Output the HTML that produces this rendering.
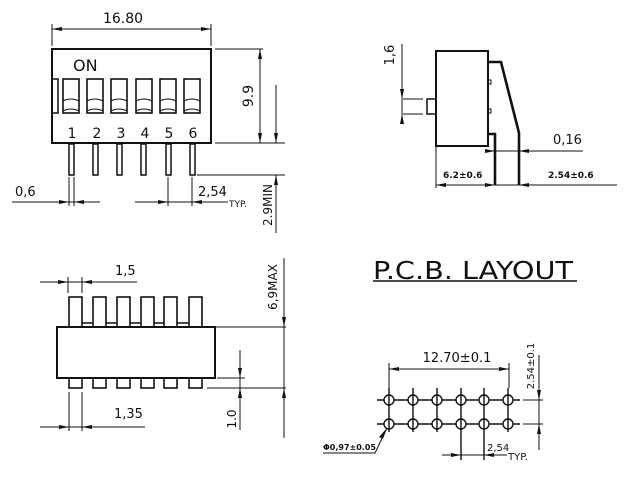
<!DOCTYPE html>
<html><head><meta charset="utf-8"><style>
html,body{margin:0;padding:0;background:#fff;}
svg{display:block;}
text{font-family:"DejaVu Sans","Liberation Sans",sans-serif;fill:#111;}
</style></head><body>
<svg width="627" height="499" viewBox="0 0 627 499" xmlns="http://www.w3.org/2000/svg">
<g stroke="#111" fill="none" stroke-width="1">
<!-- ===== FRONT VIEW ===== -->
<line x1="52" y1="24" x2="52" y2="46"/><line x1="211" y1="24" x2="211" y2="46"/>
<line x1="52" y1="29" x2="211" y2="29"/>
<rect x="52" y="49" width="159" height="94" stroke-width="2"/>
<rect x="52" y="79" width="6" height="34" stroke-width="1.5"/>
<g stroke-width="1.6">
<rect x="63" y="79" width="16" height="34"/><rect x="87" y="79" width="16" height="34"/><rect x="111" y="79" width="16" height="34"/><rect x="136" y="79" width="16" height="34"/><rect x="160" y="79" width="16" height="34"/><rect x="184" y="79" width="16" height="34"/>
</g>
<g stroke-width="1">
<path d="M63 101 Q71 97 79 101 M63 111 Q71 107 79 111"/>
<path d="M87 101 Q95 97 103 101 M87 111 Q95 107 103 111"/>
<path d="M111 101 Q119 97 127 101 M111 111 Q119 107 127 111"/>
<path d="M136 101 Q144 97 152 101 M136 111 Q144 107 152 111"/>
<path d="M160 101 Q168 97 176 101 M160 111 Q168 107 176 111"/>
<path d="M184 101 Q192 97 200 101 M184 111 Q192 107 200 111"/>
</g>
<g stroke-width="1.5">
<rect x="69" y="144" width="5" height="31"/><rect x="93" y="144" width="5" height="31"/><rect x="117" y="144" width="5" height="31"/><rect x="141" y="144" width="5" height="31"/><rect x="166" y="144" width="5" height="31"/><rect x="190" y="144" width="5" height="31"/>
</g>
<line x1="215" y1="49" x2="263" y2="49"/><line x1="215" y1="143" x2="285" y2="143"/>
<line x1="260" y1="49" x2="260" y2="143"/>
<line x1="276" y1="85" x2="276" y2="143"/>
<line x1="197" y1="175" x2="285" y2="175"/>
<line x1="276" y1="175" x2="276" y2="233"/>
<line x1="69" y1="177" x2="69" y2="206"/><line x1="74" y1="177" x2="74" y2="206"/>
<line x1="12" y1="202" x2="100" y2="202"/>
<line x1="168" y1="177" x2="168" y2="206"/><line x1="192" y1="177" x2="192" y2="206"/>
<line x1="135" y1="202" x2="228" y2="202"/>

<!-- ===== SIDE VIEW ===== -->
<rect x="436" y="51" width="52" height="95" stroke-width="2"/>
<rect x="427" y="99" width="9" height="15" stroke-width="1.5"/>
<rect x="488" y="80" width="3" height="4" stroke-width="1"/>
<rect x="488" y="109" width="3" height="4" stroke-width="1"/>
<polyline points="488,62 501,62 519,133 519,185" stroke-width="2.6"/>
<polyline points="488,134 495,134 495,185" stroke-width="2.6"/>
<line x1="403" y1="99" x2="423" y2="99"/><line x1="403" y1="114" x2="423" y2="114"/>
<line x1="402" y1="44" x2="402" y2="122"/>
<line x1="492" y1="151" x2="583" y2="151"/>
<line x1="436" y1="146" x2="436" y2="188"/>
<line x1="436" y1="185" x2="617" y2="185"/>

<!-- ===== BOTTOM/TOP VIEW ===== -->
<line x1="68" y1="277" x2="68" y2="293"/><line x1="82" y1="277" x2="82" y2="293"/>
<line x1="40" y1="282" x2="137" y2="282"/>
<line x1="82" y1="323" x2="203" y2="323" stroke-width="1.5"/>
<g stroke-width="1.6" fill="#fff">
<rect x="69" y="297" width="13" height="30"/><rect x="93" y="297" width="13" height="30"/><rect x="117" y="297" width="13" height="30"/><rect x="141" y="297" width="13" height="30"/><rect x="164" y="297" width="13" height="30"/><rect x="189" y="297" width="13" height="30"/>
</g>
<rect x="57" y="327" width="158" height="51" stroke-width="2"/>
<g stroke-width="1.6">
<rect x="69" y="378" width="13" height="10"/><rect x="93" y="378" width="13" height="10"/><rect x="117" y="378" width="13" height="10"/><rect x="141" y="378" width="13" height="10"/><rect x="164" y="378" width="13" height="10"/><rect x="189" y="378" width="13" height="10"/>
</g>
<line x1="205" y1="327" x2="286" y2="327"/>
<line x1="284" y1="258" x2="284" y2="438"/>
<line x1="207" y1="388" x2="286" y2="388"/>
<line x1="217" y1="378" x2="245" y2="378"/>
<line x1="240" y1="350" x2="240" y2="430"/>
<line x1="69" y1="392" x2="69" y2="431"/><line x1="82" y1="392" x2="82" y2="431"/>
<line x1="40" y1="427" x2="145" y2="427"/>

<!-- ===== PCB ===== -->
<line x1="373" y1="281" x2="577" y2="281" stroke-width="1.5"/>
<line x1="389" y1="363" x2="389" y2="388"/><line x1="509" y1="363" x2="509" y2="388"/>
<line x1="389" y1="369" x2="509" y2="369"/>
<line x1="377" y1="400" x2="520" y2="400" stroke-width="1.4"/>
<line x1="377" y1="424" x2="520" y2="424" stroke-width="1.4"/>
<g stroke-width="1.4">
<line x1="389" y1="388" x2="389" y2="432"/><line x1="413" y1="388" x2="413" y2="432"/><line x1="437" y1="388" x2="437" y2="432"/><line x1="461" y1="388" x2="461" y2="460"/><line x1="484" y1="388" x2="484" y2="460"/><line x1="508" y1="388" x2="508" y2="432"/>
</g>
<g stroke-width="1.4" fill="#fff">
<circle cx="389" cy="400" r="5"/><circle cx="413" cy="400" r="5"/><circle cx="437" cy="400" r="5"/><circle cx="461" cy="400" r="5"/><circle cx="484" cy="400" r="5"/><circle cx="508" cy="400" r="5"/>
<circle cx="389" cy="424" r="5"/><circle cx="413" cy="424" r="5"/><circle cx="437" cy="424" r="5"/><circle cx="461" cy="424" r="5"/><circle cx="484" cy="424" r="5"/><circle cx="508" cy="424" r="5"/>
</g>
<g stroke-width="1.4">
<line x1="389" y1="394" x2="389" y2="406"/><line x1="413" y1="394" x2="413" y2="406"/><line x1="437" y1="394" x2="437" y2="406"/><line x1="461" y1="394" x2="461" y2="406"/><line x1="484" y1="394" x2="484" y2="406"/><line x1="508" y1="394" x2="508" y2="406"/>
<line x1="389" y1="418" x2="389" y2="430"/><line x1="413" y1="418" x2="413" y2="430"/><line x1="437" y1="418" x2="437" y2="430"/><line x1="461" y1="418" x2="461" y2="430"/><line x1="484" y1="418" x2="484" y2="430"/><line x1="508" y1="418" x2="508" y2="430"/>
</g>
<line x1="523" y1="400" x2="543" y2="400"/><line x1="523" y1="424" x2="543" y2="424"/>
<line x1="539" y1="355" x2="539" y2="450"/>
<line x1="442" y1="455" x2="507" y2="455"/>
<polyline points="387,428 375,453 323,453"/>
</g>

<!-- arrowheads -->
<g fill="#111" stroke="none">
<polygon points="52,29 62,27 62,31"/><polygon points="211,29 201,27 201,31"/>
<polygon points="260,49 258,59 262,59"/><polygon points="260,143 258,133 262,133"/>
<polygon points="276,143 274,133 278,133"/>
<polygon points="276,175 274,185 278,185"/>
<polygon points="69,202 59,200 59,204"/><polygon points="74,202 84,200 84,204"/>
<polygon points="168,202 158,200 158,204"/><polygon points="192,202 202,200 202,204"/>
<polygon points="402,99 400,89 404,89"/><polygon points="402,114 400,124 404,124"/>
<polygon points="495,151 485,149 485,153"/><polygon points="519,151 529,149 529,153"/>
<polygon points="436,185 446,183 446,187"/><polygon points="495,185 485,183 485,187"/><polygon points="519,185 529,183 529,187"/>
<polygon points="68,282 58,280 58,284"/><polygon points="82,282 92,280 92,284"/>
<polygon points="284,327 282,317 286,317"/><polygon points="284,388 282,398 286,398"/>
<polygon points="240,378 238,368 242,368"/><polygon points="240,388 238,398 242,398"/>
<polygon points="69,427 59,425 59,429"/><polygon points="82,427 92,425 92,429"/>
<polygon points="389,369 399,367 399,371"/><polygon points="509,369 499,367 499,371"/>
<polygon points="539,400 537,390 541,390"/><polygon points="539,424 537,434 541,434"/>
<polygon points="461,455 451,453 451,457"/><polygon points="484,455 494,453 494,457"/>
<polygon points="387,428 379,437 383,439"/>
</g>

<!-- text -->
<g font-size="14">
<text x="123" y="23" text-anchor="middle">16.80</text>
<text x="73" y="71" font-size="16">ON</text>
<text x="72" y="138" text-anchor="middle">1</text>
<text x="97" y="138" text-anchor="middle">2</text>
<text x="121" y="138" text-anchor="middle">3</text>
<text x="145" y="138" text-anchor="middle">4</text>
<text x="169" y="138" text-anchor="middle">5</text>
<text x="193" y="138" text-anchor="middle">6</text>
<text x="253" y="96" text-anchor="middle" transform="rotate(-90 253 96)">9.9</text>
<text x="15" y="196" font-size="13">0,6</text>
<text x="198" y="196" font-size="13">2,54</text>
<text x="229" y="207" font-size="9">TYP.</text>
<text x="272" y="205" font-size="12" text-anchor="middle" transform="rotate(-90 272 205)">2.9MIN</text>
<text x="394" y="55" font-size="13" text-anchor="middle" transform="rotate(-90 394 55)">1,6</text>
<text x="553" y="144" font-size="13">0,16</text>
<text x="443" y="178" font-size="9" font-weight="bold">6.2±0.6</text>
<text x="548" y="178" font-size="9" font-weight="bold">2.54±0.6</text>
<text x="115" y="275" font-size="13">1,5</text>
<text x="277" y="287" font-size="12" text-anchor="middle" transform="rotate(-90 277 287)">6,9MAX</text>
<text x="236" y="419" font-size="12" text-anchor="middle" transform="rotate(-90 236 419)">1.0</text>
<text x="114" y="418" font-size="13">1,35</text>
<text x="373" y="279" font-size="25" textLength="200" lengthAdjust="spacingAndGlyphs" font-family="Liberation Sans">P.C.B.  LAYOUT</text>
<text x="457" y="362" font-size="13" text-anchor="middle">12.70±0.1</text>
<text x="534" y="366" font-size="10" text-anchor="middle" transform="rotate(-90 534 366)">2.54±0.1</text>
<text x="487" y="451" font-size="10">2,54</text>
<text x="508" y="460" font-size="10">TYP.</text>
<text x="323" y="450" font-size="8" font-weight="bold">Φ0,97±0.05</text>
</g>
</svg>
</body></html>
